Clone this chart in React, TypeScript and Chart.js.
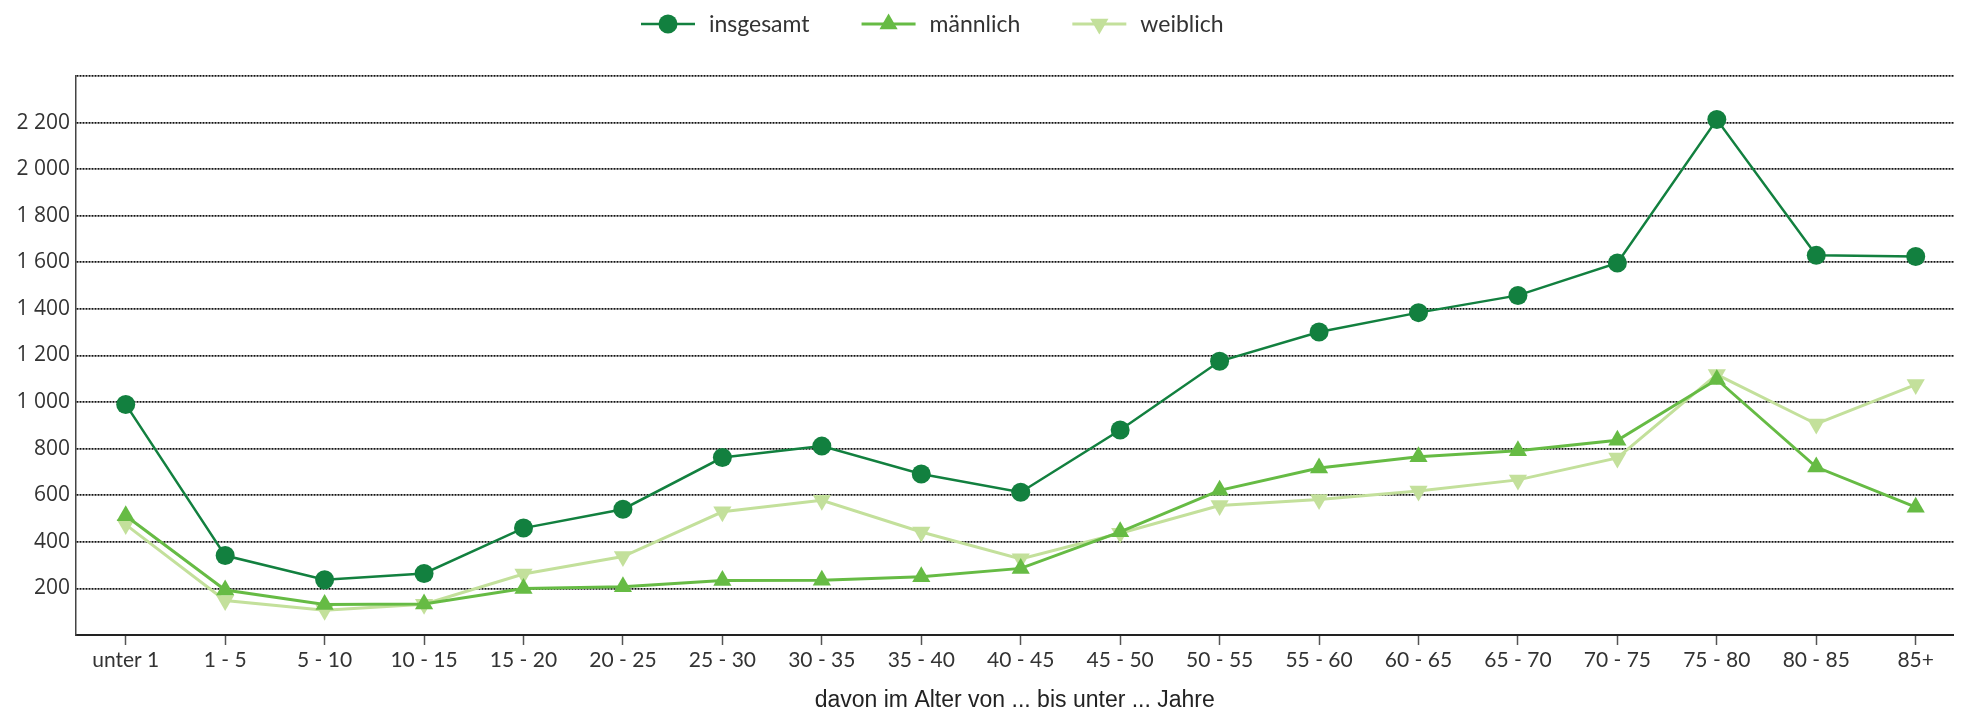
import React, { useEffect, useRef } from 'react';
import { Chart, registerables } from 'chart.js';

Chart.register(...registerables);

const categories = [
  'unter 1', '1 - 5', '5 - 10', '10 - 15', '15 - 20', '20 - 25', '25 - 30', '30 - 35', '35 - 40',
  '40 - 45', '45 - 50', '50 - 55', '55 - 60', '60 - 65', '65 - 70', '70 - 75', '75 - 80', '80 - 85', '85+',
];
const insgesamt = [990, 341, 237, 264, 459, 540, 762, 811, 691, 613, 880, 1175, 1301, 1384, 1458, 1597, 2213, 1630, 1625];
const maennlich = [512, 193, 131, 133, 200, 207, 234, 235, 250, 286, 443, 621, 717, 765, 791, 836, 1097, 721, 549];
const weiblich = [474, 148, 106, 132, 262, 337, 529, 578, 442, 327, 437, 556, 582, 618, 666, 760, 1118, 906, 1075];
const seriesNames = ['insgesamt', 'männlich', 'weiblich'];
const xTitle = 'davon im Alter von ... bis unter ... Jahre';
const yMin = 0;
const yMax = 2400;
const yStep = 200;

const COLORS = ['#12803f', '#66bb44', '#c3e09b'];

function fmt(v: number): string {
  if (v >= 1000) {
    return `${Math.floor(v / 1000)} ${String(v % 1000).padStart(3, '0')}`;
  }
  return String(v);
}

function drawMarker(ctx: CanvasRenderingContext2D, style: string, rotationDeg: number, x: number, y: number, r: number, color: string) {
  ctx.fillStyle = color;
  ctx.beginPath();
  if (style === 'circle') {
    ctx.arc(x, y, r, 0, Math.PI * 2);
  } else {
    let rad = (rotationDeg * Math.PI) / 180;
    for (let k = 0; k < 3; k++) {
      const px = x + Math.sin(rad) * r;
      const py = y - Math.cos(rad) * r;
      if (k === 0) ctx.moveTo(px, py);
      else ctx.lineTo(px, py);
      rad += (2 * Math.PI) / 3;
    }
    ctx.closePath();
  }
  ctx.fill();
}

const legendPlugin = {
  id: 'customLegend',
  afterDraw(chart: any) {
    const ctx: CanvasRenderingContext2D = chart.ctx;
    ctx.save();
    ctx.font = '23px Lato';
    ctx.textBaseline = 'middle';
    ctx.textAlign = 'left';
    let x = 641;
    const y = 24;
    chart.data.datasets.forEach((ds: any) => {
      ctx.strokeStyle = ds.borderColor;
      ctx.lineWidth = ds.borderWidth;
      ctx.beginPath();
      ctx.moveTo(x, y);
      ctx.lineTo(x + 54, y);
      ctx.stroke();
      drawMarker(ctx, ds.pointStyle, ds.pointRotation || 0, x + 27, y, ds.pointRadius, ds.pointBackgroundColor);
      ctx.fillStyle = '#333';
      ctx.fillText(ds.label, x + 68, y + 1);
      x += 68 + ctx.measureText(ds.label).width + 52;
    });
    ctx.restore();
  },
};

export default function App() {
  const ref = useRef<HTMLCanvasElement | null>(null);

  useEffect(() => {
    document.body.style.margin = '0';
    const canvas = ref.current;
    if (!canvas) return;
    const toPts = (arr: number[]) => arr.map((v, i) => ({ x: i, y: v }));
    const seriesData = [insgesamt, maennlich, weiblich];
    const styles = [
      { pointStyle: 'circle', pointRadius: 9.5, borderWidth: 2.5, rot: 0 },
      { pointStyle: 'triangle', pointRadius: 10.5, borderWidth: 3, rot: 0 },
      { pointStyle: 'triangle', pointRadius: 10.5, borderWidth: 3, rot: 180 },
    ];
    const chart = new Chart(canvas, {
      type: 'line',
      data: {
        datasets: seriesData.map((arr, k) => ({
          label: seriesNames[k],
          data: toPts(arr),
          borderColor: COLORS[k],
          backgroundColor: COLORS[k],
          pointBackgroundColor: COLORS[k],
          pointBorderColor: COLORS[k],
          pointBorderWidth: 0,
          borderWidth: styles[k].borderWidth,
          pointStyle: styles[k].pointStyle,
          pointRadius: styles[k].pointRadius,
          pointHoverRadius: styles[k].pointRadius,
          pointRotation: styles[k].rot,
          tension: 0,
          fill: false,
          clip: false,
        })) as any,
      },
      options: {
        animation: false,
        responsive: false,
        devicePixelRatio: 1,
        layout: { padding: { top: 76, left: 0, right: 0, bottom: 0 } },
        plugins: {
          legend: { display: false },
          tooltip: { enabled: false },
        },
        scales: {
          x: {
            type: 'linear',
            min: -0.5,
            max: 18.38,
            afterBuildTicks: (scale: any) => {
              scale.ticks = categories.map((_, i) => ({ value: i }));
            },
            afterFit: (scale: any) => {
              scale.height = 79;
            },
            ticks: {
              autoSkip: false,
              maxRotation: 0,
              minRotation: 0,
              padding: 3,
              color: '#333',
              font: { family: 'Lato', size: 21 },
              callback: (v: any) => categories[Math.round(Number(v))] ?? '',
            },
            grid: {
              display: true,
              drawOnChartArea: false,
              drawTicks: true,
              tickLength: 10,
              tickColor: '#555',
              tickWidth: 1.5,
            },
            border: { display: true, color: '#222', width: 2 },
            title: {
              display: true,
              text: xTitle,
              color: '#222',
              font: { family: 'Liberation Sans', size: 23 },
              padding: { top: 0, bottom: 0 },
            },
          },
          y: {
            type: 'linear',
            min: yMin,
            max: yMax,
            afterFit: (scale: any) => {
              scale.width = 76;
            },
            ticks: {
              stepSize: yStep,
              padding: 6,
              color: '#333',
              font: { family: 'Open Sans', size: 21 },
              callback: (v: any) => (Number(v) === yMin || Number(v) === yMax ? '' : fmt(Number(v))),
            },
            grid: {
              display: true,
              drawTicks: false,
              lineWidth: 1.8,
              color: (c: any) => (c.tick && c.tick.value === yMin ? 'rgba(0,0,0,0)' : '#111'),
            },
            border: { display: true, color: '#444', width: 1.5, dash: [2, 1] },
          },
        },
      } as any,
      plugins: [legendPlugin],
    });
    return () => chart.destroy();
  }, []);

  return <canvas ref={ref} width={1964} height={714} style={{ display: 'block' }} />;
}
